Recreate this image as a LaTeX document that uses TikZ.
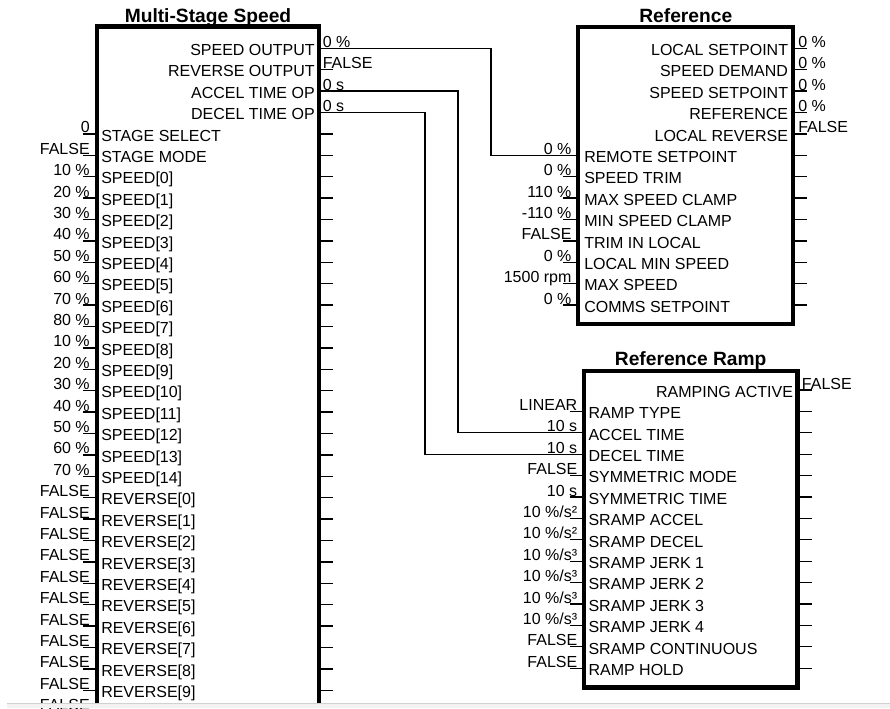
\documentclass[tikz,border=0pt]{standalone}
\usepackage{fontspec}
\setmainfont{Liberation Sans}

\tikzset{
  blockbox/.style={line width=3.2pt},
  blocktitle/.style={font=\bfseries\fontsize{14.4}{16}\selectfont, anchor=base, inner sep=0pt},
  pinlabel/.style={font=\fontsize{12}{14}\selectfont, inner sep=0pt},
  pinvalue/.style={font=\fontsize{12}{14}\selectfont, inner sep=0pt, anchor=base east},
  wire/.style={line width=1pt},
}

\begin{document}
\begin{tikzpicture}[x=0.75pt,y=-0.75pt]
\useasboundingbox (0,0) rectangle (890,708);

% Multi-Stage Speed -- runs off the bottom of the view
\node[blocktitle] (mss-title) at (208,22.3) {Multi-Stage Speed};
\draw[blockbox] (97,705) -- (97,26.5) -- (319,26.5) -- (319,705);
% outputs
\foreach \val/\lbl [count=\k from 0] in {0 \%/SPEED OUTPUT, FALSE/REVERSE OUTPUT, 0 s/ACCEL TIME OP, 0 s/DECEL TIME OP}{
  \coordinate (mss-o\k) at (319,48.3+21.4*\k);
  \node[pinlabel, anchor=base east] (mss-ol\k) at (315,55.5+21.4*\k) {\lbl};
  \node[pinlabel, anchor=base west] (mss-ov\k) at (322.5,47.3+21.4*\k) {\val};
}
\draw[wire] (mss-o1) -- ++(14,0);
% inputs
\foreach \val/\lbl [count=\k from 4] in {0/STAGE SELECT, FALSE/STAGE MODE}{
  \coordinate (mss-i\k) at (97,48.3+21.4*\k);
  \node[pinvalue] (mss-iv\k) at (90,47.3+21.4*\k) {\val};
  \node[pinlabel, anchor=base west] (mss-il\k) at (101,55.5+21.4*\k) {\lbl};
}
\foreach \val [count=\k from 6] in {10,20,30,40,50,60,70,80,10,20,30,40,50,60,70}{
  \pgfmathtruncatemacro\j{\k-6}
  \coordinate (mss-i\k) at (97,48.3+21.4*\k);
  \node[pinvalue] (mss-iv\k) at (90,47.3+21.4*\k) {\val\ \%};
  \node[pinlabel, anchor=base west] (mss-il\k) at (101,55.5+21.4*\k) {SPEED[\j]};
}
\foreach \k in {21,...,30}{
  \pgfmathtruncatemacro\j{\k-21}
  \coordinate (mss-i\k) at (97,48.3+21.4*\k);
  \node[pinvalue] (mss-iv\k) at (90,47.3+21.4*\k) {FALSE};
  \node[pinlabel, anchor=base west] (mss-il\k) at (101,55.5+21.4*\k) {REVERSE[\j]};
}
% next row only peeks out above the bottom edge
\node[pinvalue] (mss-iv31) at (90,47.3+21.4*31) {FALSE};
\foreach \k in {4,...,30}{
  \draw[wire] (mss-i\k) -- ++(-14,0);
  \draw[wire] (mss-i\k -| mss-o0) -- ++(14,0);
}

% Reference
\node[blocktitle] (ref-title) at (685.8,22.3) {Reference};
\draw[blockbox] (578.3,27) rectangle (793.3,324);
\foreach \val/\lbl [count=\k from 0] in {0 \%/LOCAL SETPOINT, 0 \%/SPEED DEMAND, 0 \%/SPEED SETPOINT, 0 \%/REFERENCE, FALSE/LOCAL REVERSE}{
  \coordinate (ref-o\k) at (793.3,48.3+21.4*\k);
  \draw[wire] (ref-o\k) -- ++(14,0);
  \node[pinlabel, anchor=base east] (ref-ol\k) at (788.3,55.5+21.4*\k) {\lbl};
  \node[pinlabel, anchor=base west] (ref-ov\k) at (798,47.3+21.4*\k) {\val};
}
\foreach \val/\lbl [count=\k from 5] in {0 \%/REMOTE SETPOINT, 0 \%/SPEED TRIM, 110 \%/MAX SPEED CLAMP, -110 \%/MIN SPEED CLAMP, FALSE/TRIM IN LOCAL, 0 \%/LOCAL MIN SPEED, 1500 rpm/MAX SPEED, 0 \%/COMMS SETPOINT}{
  \coordinate (ref-i\k) at (578.3,48.3+21.4*\k);
  \draw[wire] (ref-i\k) -- ++(-15,0);
  \draw[wire] (ref-i\k -| ref-o0) -- ++(14,0);
  \node[pinvalue] (ref-iv\k) at (571.7,47.3+21.4*\k) {\val};
  \node[pinlabel, anchor=base west] (ref-il\k) at (584,55.5+21.4*\k) {\lbl};
}

% Reference Ramp
\node[blocktitle] (ramp-title) at (690.7,365.7) {Reference Ramp};
\draw[blockbox] (584,371) rectangle (797.5,687.5);
\coordinate (ramp-o0) at (797.5,390);
\draw[wire] (ramp-o0) -- ++(14.5,0);
\node[pinlabel, anchor=base east] (ramp-ol0) at (793.3,397.2) {RAMPING ACTIVE};
\node[pinlabel, anchor=base west] (ramp-ov0) at (801.7,389) {FALSE};
\foreach \val/\lbl [count=\k from 1] in {LINEAR/RAMP TYPE, 10 s/ACCEL TIME, 10 s/DECEL TIME, FALSE/SYMMETRIC MODE, 10 s/SYMMETRIC TIME, {10 \%/s²}/SRAMP ACCEL, {10 \%/s²}/SRAMP DECEL, {10 \%/s³}/SRAMP JERK 1, {10 \%/s³}/SRAMP JERK 2, {10 \%/s³}/SRAMP JERK 3, {10 \%/s³}/SRAMP JERK 4, FALSE/SRAMP CONTINUOUS, FALSE/RAMP HOLD}{
  \coordinate (ramp-i\k) at (584,390+21.4*\k);
  \draw[wire] (ramp-i\k) -- ++(-14,0);
  \draw[wire] (ramp-i\k -| ramp-o0) -- ++(14.5,0);
  \node[pinvalue] (ramp-iv\k) at (577.5,389+21.4*\k) {\val};
  \node[pinlabel, anchor=base west] (ramp-il\k) at (588.3,397.2+21.4*\k) {\lbl};
}

% links
\draw[wire] (mss-o0) -- ++(172,0) |- (ref-i5);
\draw[wire] (mss-o2) -- ++(139,0) |- (ramp-i2);
\draw[wire] (mss-o3) -- ++(106,0) |- (ramp-i3);

% scroll bar along the bottom edge
\fill[black!5] (7,703) rectangle (890,708);
\draw[black!18, line width=0.75pt] (7,703) -- (890,703);
\end{tikzpicture}
\end{document}
